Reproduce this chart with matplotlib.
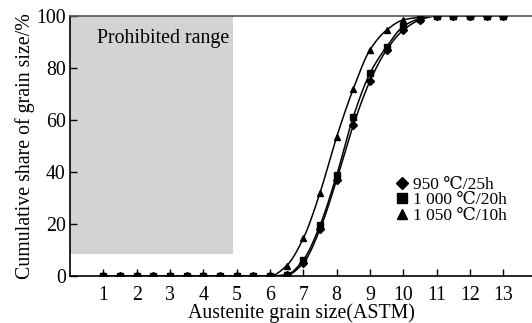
import numpy as np
import matplotlib
matplotlib.use("Agg")
import matplotlib.pyplot as plt
from matplotlib.patches import Rectangle

plt.rcParams['font.family'] = ['Liberation Serif', 'DejaVu Serif']
plt.rcParams['mathtext.fontset'] = 'stix'

grain = [1, 1.5, 2, 2.5, 3, 3.5, 4, 4.5, 5, 5.5, 6, 6.5, 7, 7.5, 8, 8.5, 9, 9.5,
         10, 10.5, 11, 11.5, 12, 12.5, 13]
s950 = [0, 0, 0, 0, 0, 0, 0, 0, 0, 0, 0, 0.3, 5, 18, 37, 58, 75, 87,
        94.6, 98.5, 100, 100, 100, 100, 100]
s1000 = [0, 0, 0, 0, 0, 0, 0, 0, 0, 0, 0, 0.5, 6.2, 19.5, 38.8, 61.3, 78, 88.2,
         96, 99, 100, 100, 100, 100, 100]
s1050 = [0, 0, 0, 0, 0, 0, 0, 0, 0, 0, 0, 4, 14.5, 32, 53.5, 72, 87, 94.6,
         98.5, 99.5, 100, 100, 100, 100, 100]
labels = ['950 ℃/25h', '1 000 ℃/20h', '1 050 ℃/10h']
markers = ['D', 's', '^']
xticks = list(range(1, 14))
yticks = [0, 20, 40, 60, 80, 100]


def pchip(x, y, xs):
    x = np.asarray(x, float); y = np.asarray(y, float)
    h = np.diff(x); d = np.diff(y) / h
    m = np.zeros_like(y)
    for k in range(1, len(x) - 1):
        if d[k - 1] * d[k] > 0:
            w1 = 2 * h[k] + h[k - 1]; w2 = h[k] + 2 * h[k - 1]
            m[k] = (w1 + w2) / (w1 / d[k - 1] + w2 / d[k])
    m[0] = d[0]; m[-1] = d[-1]
    idx = np.clip(np.searchsorted(x, xs) - 1, 0, len(x) - 2)
    t = (xs - x[idx]) / h[idx]
    h00 = 2*t**3 - 3*t**2 + 1; h10 = t**3 - 2*t**2 + t
    h01 = -2*t**3 + 3*t**2; h11 = t**3 - t**2
    return h00*y[idx] + h10*h[idx]*m[idx] + h01*y[idx+1] + h11*h[idx]*m[idx+1]


fig = plt.figure(figsize=(5.32, 3.23), dpi=100)
ax = fig.add_axes([70/532, 47/323, 1 - 70/532, (276-16)/323])

ax.add_patch(Rectangle((0, 8.5), 4.9, 91.5, facecolor='#d3d3d3', edgecolor='none', zorder=0))
ax.text(0.8, 91.5, 'Prohibited range', fontsize=14.3, va='center', ha='left')

xs = np.linspace(1, 13, 600)
handles = []
for ys, mk, lab in zip([s950, s1000, s1050], markers, labels):
    ax.plot(xs, pchip(grain, ys, xs), color='black', lw=1.1, zorder=2)
    ax.plot(grain, ys, linestyle='none', marker=mk, color='black',
            markersize=4.5 if mk != 'D' else 4, zorder=3)
    h, = ax.plot([], [], linestyle='none', marker=mk, color='black',
                 markersize=7 if mk != 'D' else 6, label=lab)
    handles.append(h)

ax.set_xlim(0, 13.86)
ax.set_ylim(0, 100)
ax.set_xticks(xticks)
ax.set_yticks(yticks)
ax.tick_params(direction='in', length=5, width=1, labelsize=14.3, pad=7)
ax.tick_params(axis='y', pad=3)
ax.spines['right'].set_visible(False)
ax.spines['top'].set_color('#555555')
ax.spines['top'].set_linewidth(1.2)
for s in ['left', 'bottom']:
    ax.spines[s].set_linewidth(1.2)
ax.set_xlabel('Austenite grain size(ASTM)', fontsize=14.3, labelpad=-1)
ax.set_ylabel('Cumulative share of grain size/%', fontsize=14.3, labelpad=1)

fig.legend(handles=handles, loc='upper left', bbox_to_anchor=(397/532, 1 - 177/323),
           frameon=False, fontsize=12.5, handlelength=0.6, handletextpad=0.3,
           labelspacing=-0.05, borderpad=0, borderaxespad=0)

fig.savefig('out.png', dpi=100)
